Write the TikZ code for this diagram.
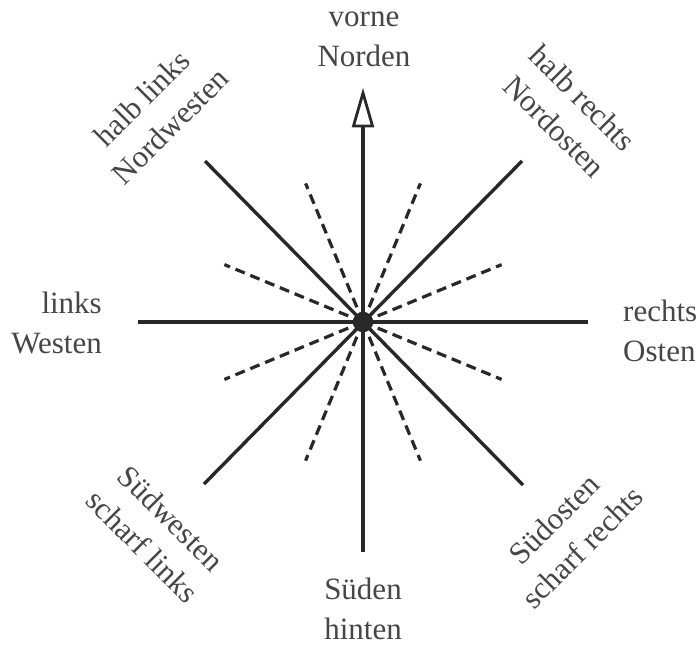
\documentclass[tikz,border=0pt]{standalone}
\usepackage{fontspec}
\setmainfont{Liberation Serif}
\definecolor{linecol}{RGB}{40,40,40}
\definecolor{textcol}{RGB}{70,70,70}
\tikzset{
  solidray/.style={draw=linecol, line width=3.4pt},
  dashray/.style={draw=linecol, line width=3.2pt, dash pattern=on 10pt off 6pt},
  lbl/.style={text=textcol, inner sep=0pt, align=center, font=\fontsize{31}{40}\selectfont},
  arrowhead/.style={draw=linecol, line width=2.8pt, fill=white, line join=miter}
}
\begin{document}
\begin{tikzpicture}[x=1pt,y=-1pt]
\useasboundingbox (0,0) rectangle (700,646);
% centre and solid ray ends
\coordinate (C) at (363,322);
\coordinate (N) at (363,126);
\coordinate (Ntip) at (363,93);
\coordinate (Nl) at (353.5,126);
\coordinate (Nr) at (372.5,126);
\coordinate (S) at (363,552);
\coordinate (W) at (138,322);
\coordinate (E) at (588,322);
\coordinate (NW) at (205,161);
\coordinate (NE) at (522,161);
\coordinate (SW) at (204,484);
\coordinate (SE) at (523,485);
% dashed ray ends
\coordinate (d1) at (305.6,183.4);
\coordinate (d2) at (420.4,183.4);
\coordinate (d3) at (305.6,460.6);
\coordinate (d4) at (420.4,460.6);
\coordinate (d5) at (224.4,264.6);
\coordinate (d6) at (501.6,264.6);
\coordinate (d7) at (224.4,379.4);
\coordinate (d8) at (501.6,379.4);
% dashed rays
\foreach \p in {d1,d2,d3,d4,d5,d6,d7,d8}
  \draw[dashray] (C) -- (\p);
% solid rays
\draw[solidray] (W) -- (E);
\draw[solidray] (C) -- (S);
\draw[solidray] (C) -- (N);
\draw[solidray] (NW) -- (SE);
\draw[solidray] (NE) -- (SW);
% arrow head
\draw[arrowhead] (Ntip) -- (Nr) -- (Nl) -- cycle;
% centre dot
\fill[linecol] (C) circle (10);
% labels
\node[lbl] (lN) at (364,38) {\strut vorne\\\strut Norden};
\node[lbl] (lS) at (363,611) {\strut Süden\\\strut hinten};
\node[lbl, anchor=east, align=right] (lW) at (102,325.5) {\strut links\\\strut Westen};
\node[lbl, anchor=west, align=left] (lE) at (623,333.5) {\strut rechts\\\strut Osten};
\node[lbl, rotate=45] (lNW) at (158,114) {\strut halb links\\\strut Nordwesten};
\node[lbl, rotate=-45] (lNE) at (567,114) {\strut halb rechts\\\strut Nordosten};
\node[lbl, rotate=-45] (lSW) at (155,534) {\strut Südwesten\\\strut scharf links};
\node[lbl, rotate=45] (lSE) at (570,535) {\strut Südosten\\\strut scharf rechts};
\end{tikzpicture}
\end{document}
